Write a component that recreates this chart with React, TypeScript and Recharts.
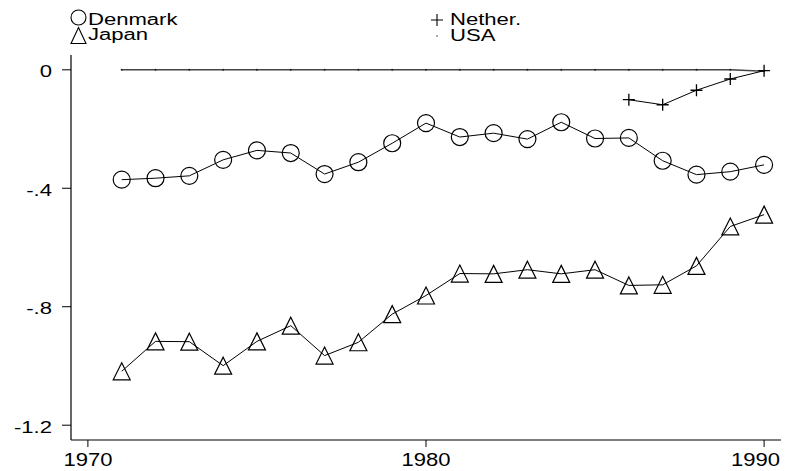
import React from "react";
import { LineChart, Line, XAxis, YAxis } from "recharts";

const years = [1971, 1972, 1973, 1974, 1975, 1976, 1977, 1978, 1979, 1980, 1981, 1982, 1983, 1984, 1985, 1986, 1987, 1988, 1989, 1990];
const denmark = [-0.371, -0.366, -0.358, -0.304, -0.272, -0.281, -0.352, -0.312, -0.248, -0.18, -0.227, -0.214, -0.234, -0.177, -0.232, -0.23, -0.307, -0.354, -0.344, -0.321];
const japan = [-1.018, -0.917, -0.918, -0.999, -0.917, -0.864, -0.965, -0.92, -0.825, -0.762, -0.688, -0.689, -0.675, -0.689, -0.675, -0.728, -0.726, -0.662, -0.529, -0.489];
const netherYears = [1986, 1987, 1988, 1989, 1990];
const nether = [-0.101, -0.118, -0.069, -0.031, -0.003];
const usa = [0, 0, 0, 0, 0, 0, 0, 0, 0, 0, 0, 0, 0, 0, 0, 0, 0, 0, 0, -0.005];

const xTicks = [1970, 1980, 1990];
const xTickLabels = ["1970", "1980", "1990"];
const yTicks = [0, -0.4, -0.8, -1.2];
const yTickLabels = ["0", "-.4", "-.8", "-1.2"];

const seriesNames = ["Denmark", "Japan", "Nether.", "USA"];

const denmarkData = years.map((year, i) => ({ year, v: denmark[i] }));
const japanData = years.map((year, i) => ({ year, v: japan[i] }));
const netherData = netherYears.map((year, i) => ({ year, v: nether[i] }));
const usaData = years.map((year, i) => ({ year, v: usa[i] }));

const FONT = "'Liberation Sans', Arial, sans-serif";

const CircleDot = (props: any) => {
  const { cx, cy, index } = props;
  if (cx == null || cy == null) return <g key={`c-${index}`} />;
  return <circle key={`c-${index}`} cx={cx} cy={cy} r={8.5} fill="none" stroke="#000" strokeWidth={1.2} />;
};

const TriangleDot = (props: any) => {
  const { cx, cy, index } = props;
  if (cx == null || cy == null) return <g key={`t-${index}`} />;
  const h = 8.5;
  const d = `M${cx},${cy - h} L${cx + h},${cy + h} L${cx - h},${cy + h} Z`;
  return <path key={`t-${index}`} d={d} fill="none" stroke="#000" strokeWidth={1.2} />;
};

const PlusDot = (props: any) => {
  const { cx, cy, index } = props;
  if (cx == null || cy == null) return <g key={`p-${index}`} />;
  const a = 6;
  return (
    <path
      key={`p-${index}`}
      d={`M${cx - a},${cy} L${cx + a},${cy} M${cx},${cy - a} L${cx},${cy + a}`}
      stroke="#000"
      strokeWidth={1.3}
      fill="none"
    />
  );
};

const SmallDot = (props: any) => {
  const { cx, cy, index } = props;
  if (cx == null || cy == null) return <g key={`s-${index}`} />;
  return <circle key={`s-${index}`} cx={cx} cy={cy} r={1} fill="#222" />;
};

const XTick = (props: any) => {
  const { x, y, payload } = props;
  const idx = xTicks.indexOf(payload.value);
  const label = idx >= 0 ? xTickLabels[idx] : String(payload.value);
  const last = idx === xTicks.length - 1;
  return (
    <text
      transform={`translate(${last ? x + 16 : x},${y + 17}) scale(1.16,1)`}
      textAnchor={last ? "end" : "middle"}
      fontSize={19}
      fontFamily={FONT}
      fill="#000"
    >
      {label}
    </text>
  );
};

const YTick = (props: any) => {
  const { x, y, payload } = props;
  const idx = yTicks.findIndex((t) => Math.abs(t - payload.value) < 1e-9);
  const label = idx >= 0 ? yTickLabels[idx] : String(payload.value);
  return (
    <text
      transform={`translate(${x},${y + 7.5}) scale(1.3,1)`}
      textAnchor="end"
      fontSize={17}
      fontFamily={FONT}
      fill="#000"
    >
      {label}
    </text>
  );
};

const LegendOverlay = () => {
  const txt = (label: string, x: number, y: number) => (
    <text transform={`translate(${x},${y}) scale(1.38,1)`} fontSize={16} fontFamily={FONT} fill="#000">
      {label}
    </text>
  );
  return (
    <svg width={791} height={50} style={{ position: "absolute", left: 0, top: 0, pointerEvents: "none" }}>
      <circle cx={78.5} cy={17.5} r={7.5} fill="none" stroke="#000" strokeWidth={1.1} />
      {txt(seriesNames[0], 88, 25)}
      <path d="M78.5,27.5 L86,43.5 L71,43.5 Z" fill="none" stroke="#000" strokeWidth={1.1} />
      {txt(seriesNames[1], 88, 40)}
      <path d="M431,20 L443,20 M437,14 L437,26" stroke="#000" strokeWidth={1.1} fill="none" />
      {txt(seriesNames[2], 450, 25)}
      <circle cx={437} cy={36} r={0.8} fill="#444" />
      {txt(seriesNames[3], 450, 41)}
    </svg>
  );
};

export default function App() {
  return (
    <div style={{ position: "absolute", left: 0, top: 0, width: 791, height: 471, background: "#fff" }}>
      <LineChart width={791} height={471} margin={{ top: 55, right: 10, left: 0, bottom: 0 }}>
        <XAxis
          type="number"
          dataKey="year"
          domain={[1969.5, 1990.5]}
          ticks={xTicks}
          interval={0}
          height={31}
          tickSize={7}
          tickMargin={2}
          axisLine={{ stroke: "#000", strokeWidth: 1.2 }}
          tickLine={{ stroke: "#000", strokeWidth: 1 }}
          tick={<XTick />}
          allowDuplicatedCategory={false}
        />
        <YAxis
          type="number"
          domain={[-1.25, 0.05]}
          ticks={yTicks}
          interval={0}
          width={71}
          tickSize={9}
          tickMargin={10}
          axisLine={{ stroke: "#000", strokeWidth: 1.2 }}
          tickLine={{ stroke: "#000", strokeWidth: 1 }}
          tick={<YTick />}
          allowDataOverflow
        />
        <Line
          data={usaData}
          dataKey="v"
          name={seriesNames[3]}
          stroke="#444"
          strokeWidth={1.6}
          dot={SmallDot}
          activeDot={false}
          isAnimationActive={false}
          type="linear"
        />
        <Line
          data={denmarkData}
          dataKey="v"
          name={seriesNames[0]}
          stroke="#000"
          strokeWidth={1}
          dot={CircleDot}
          activeDot={false}
          isAnimationActive={false}
          type="linear"
        />
        <Line
          data={japanData}
          dataKey="v"
          name={seriesNames[1]}
          stroke="#000"
          strokeWidth={1}
          dot={TriangleDot}
          activeDot={false}
          isAnimationActive={false}
          type="linear"
        />
        <Line
          data={netherData}
          dataKey="v"
          name={seriesNames[2]}
          stroke="#000"
          strokeWidth={1}
          dot={PlusDot}
          activeDot={false}
          isAnimationActive={false}
          type="linear"
        />
      </LineChart>
      <LegendOverlay />
    </div>
  );
}
